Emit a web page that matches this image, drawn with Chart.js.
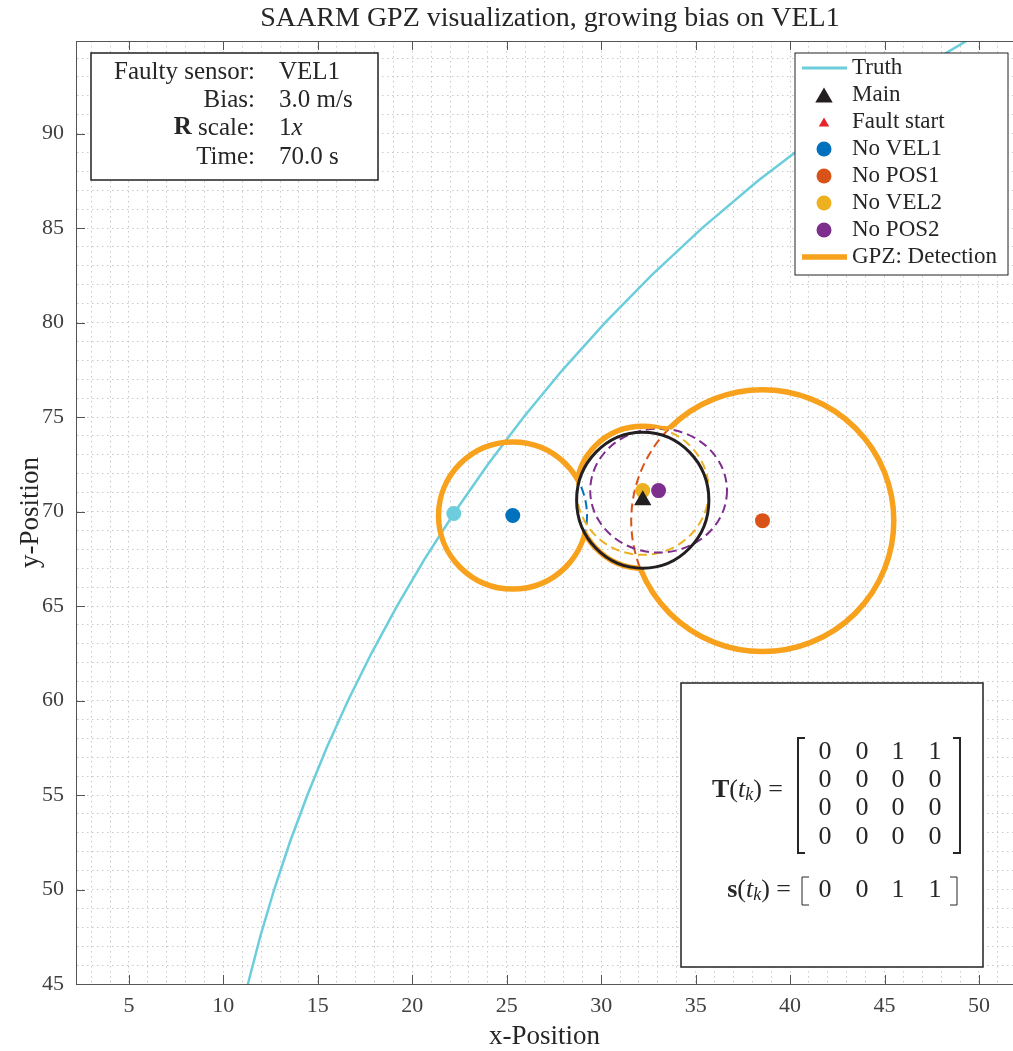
<!DOCTYPE html>
<html>
<head>
<meta charset="utf-8">
<script src="https://cdn.jsdelivr.net/npm/chart.js@4.4.1/dist/chart.umd.min.js"></script>
<style>
  html, body { margin: 0; padding: 0; background: #fff; }
  canvas { display: block; }
</style>
</head>
<body>
<canvas id="c" width="1013" height="1051"></canvas>
<script>
// SAARM GPZ: truth track, main filter + sub-filters, GPZ union outline.
const TITLE = "SAARM GPZ visualization, growing bias on VEL1";

const xTicks = [5, 10, 15, 20, 25, 30, 35, 40, 45, 50];
const yTicks = [45, 50, 55, 60, 65, 70, 75, 80, 85, 90];

// truth trajectory
const truthX = [11.06, 11.30, 11.95, 12.69, 13.52, 14.45, 15.47, 16.60, 17.84, 19.19, 20.66, 22.27,
  24.01, 25.90, 27.96, 30.21, 32.66, 35.34, 38.30, 41.59, 45.28, 49.50, 51.38];
const truthY = [44, 45, 47.5, 50, 52.5, 55, 57.5, 60, 62.5, 65, 67.5, 70,
  72.5, 75, 77.5, 80, 82.5, 85, 87.5, 90, 92.5, 95, 96];
const truthNowX = [22.2];
const truthNowY = [69.9];

// main filter
const mainX = [32.2];
const mainY = [70.6];
const mainRx = 3.5;
const mainRy = 3.6;

// fault start (not in view)
const faultX = [];
const faultY = [];

// sub-filters
const subNames = ["No VEL1", "No POS1", "No VEL2", "No POS2"];
const subX = [25.32, 38.54, 32.20, 33.04];
const subY = [69.79, 69.52, 71.11, 71.11];
const subRx = [3.93, 6.95, 3.50, 3.62];
const subRy = [3.89, 6.93, 3.40, 3.28];

// test matrix and flags
const Tmat = [[0, 0, 1, 1], [0, 0, 0, 0], [0, 0, 0, 0], [0, 0, 0, 0]];
const sVec = [0, 0, 1, 1];

const info = [
  ["Faulty sensor:", "VEL1"],
  ["Bias:", "3.0 m/s"],
  ["R scale:", "1x"],
  ["Time:", "70.0 s"],
];

// styles
const SERIF = '"Liberation Serif", "Times New Roman", serif';
const INK = "#262626";
const AXIS = "#555";
const CYAN = "#6ccedc";
const ORANGE = "#f8a11c";
const MAINC = "#231f20";
const FAULTC = "#e8242b";
const SUBC = ["#0072bd", "#d95319", "#edb120", "#7e2f8e"];

const pts = (xs, ys) => xs.map((v, i) => ({ x: v, y: ys[i] }));

function ellPix(chart, cx, cy, rx, ry) {
  const { x, y } = chart.scales;
  const px = x.getPixelForValue(cx), py = y.getPixelForValue(cy);
  return {
    px, py,
    rx: Math.abs(x.getPixelForValue(cx + rx) - px),
    ry: Math.abs(y.getPixelForValue(cy + ry) - py),
  };
}

function ellPath(ctx, e) {
  ctx.moveTo(e.px + e.rx, e.py);
  ctx.ellipse(e.px, e.py, e.rx, e.ry, 0, 0, Math.PI * 2);
}

function drawRegions(chart) {
  const ctx = chart.ctx, a = chart.chartArea;
  const subs = subX.map((v, i) => ellPix(chart, v, subY[i], subRx[i], subRy[i]));
  const main = ellPix(chart, mainX[0], mainY[0], mainRx, mainRy);
  ctx.save();
  ctx.beginPath();
  ctx.rect(a.left, a.top, a.right - a.left, a.bottom - a.top);
  ctx.clip();

  // dashed sub-filter regions
  ctx.lineWidth = 2;
  ctx.setLineDash([9, 5]);
  subs.forEach((e, i) => {
    ctx.strokeStyle = SUBC[i];
    ctx.beginPath(); ellPath(ctx, e); ctx.stroke();
  });
  ctx.setLineDash([]);

  // GPZ outline: only the outer boundary of the union
  const all = subs.concat([main]);
  ctx.lineWidth = 5.5;
  ctx.strokeStyle = ORANGE;
  all.forEach((e, i) => {
    ctx.save();
    all.forEach((o, j) => {
      if (j === i) return;
      ctx.beginPath();
      ctx.rect(0, 0, chart.width, chart.height);
      ellPath(ctx, o);
      ctx.clip("evenodd");
    });
    ctx.beginPath(); ellPath(ctx, e); ctx.stroke();
    ctx.restore();
  });

  // main filter region
  ctx.lineWidth = 3;
  ctx.strokeStyle = MAINC;
  ctx.beginPath(); ellPath(ctx, main); ctx.stroke();
  ctx.restore();
}

function runs(ctx, parts, x, y, align) {
  let w = 0;
  for (const p of parts) { ctx.font = p.f; p.w = ctx.measureText(p.t).width; w += p.w; }
  let cx = align === "right" ? x - w : align === "center" ? x - w / 2 : x;
  ctx.textAlign = "left";
  ctx.textBaseline = "middle";
  for (const p of parts) { ctx.font = p.f; ctx.fillText(p.t, cx, y + (p.dy || 0)); cx += p.w; }
}

function box(ctx, x, y, w, h, lw) {
  ctx.fillStyle = "#fff";
  ctx.fillRect(x, y, w, h);
  ctx.strokeStyle = "#222";
  ctx.lineWidth = lw;
  ctx.strokeRect(x, y, w, h);
}

function bracket(ctx, x, top, bottom, dir) {
  ctx.beginPath();
  ctx.moveTo(x + dir * 7, top);
  ctx.lineTo(x, top);
  ctx.lineTo(x, bottom);
  ctx.lineTo(x + dir * 7, bottom);
  ctx.stroke();
}

function drawFrame(chart) {
  const ctx = chart.ctx, a = chart.chartArea, { x, y } = chart.scales;
  ctx.save();
  ctx.strokeStyle = AXIS;
  ctx.lineWidth = 1;
  ctx.beginPath();
  ctx.moveTo(a.left, a.top + 0.5); ctx.lineTo(a.right, a.top + 0.5);
  for (const v of xTicks) {
    const px = Math.round(x.getPixelForValue(v)) + 0.5;
    ctx.moveTo(px, a.bottom); ctx.lineTo(px, a.bottom - 9);
    ctx.moveTo(px, a.top); ctx.lineTo(px, a.top + 9);
  }
  for (const v of yTicks) {
    const py = Math.round(y.getPixelForValue(v)) + 0.5;
    ctx.moveTo(a.left, py); ctx.lineTo(a.left + 9, py);
  }
  ctx.stroke();

  // title
  ctx.fillStyle = INK;
  ctx.font = "28px " + SERIF;
  ctx.textAlign = "center";
  ctx.textBaseline = "middle";
  ctx.fillText(TITLE, 550, 19);
  ctx.restore();
}

function drawInfo(ctx) {
  box(ctx, 91, 53, 287, 127, 1.5);
  ctx.fillStyle = INK;
  const f = "25px " + SERIF, fb = "bold 25px " + SERIF, fi = "italic 25px " + SERIF;
  const rows = [72, 100, 128, 157];
  info.forEach(([label, value], i) => {
    if (label.startsWith("R ")) {
      runs(ctx, [{ t: "R", f: fb }, { t: label.slice(1), f }], 255, rows[i], "right");
      runs(ctx, [{ t: value.slice(0, -1), f }, { t: value.slice(-1), f: fi }], 279, rows[i], "left");
    } else {
      runs(ctx, [{ t: label, f }], 255, rows[i], "right");
      runs(ctx, [{ t: value, f }], 279, rows[i], "left");
    }
  });
}

function drawMatrix(ctx) {
  box(ctx, 681, 683, 302, 284, 1.5);
  ctx.fillStyle = INK;
  ctx.strokeStyle = INK;
  ctx.lineWidth = 2;
  const f = "26px " + SERIF, fb = "bold 26px " + SERIF, fi = "italic 26px " + SERIF, fs = "italic 18px " + SERIF;
  const cols = [825, 862, 898, 935];
  const rows = [752, 780, 808, 837];
  runs(ctx, [{ t: "T", f: fb }, { t: "(", f }, { t: "t", f: fi }, { t: "k", f: fs, dy: 5 }, { t: ")", f }, { t: " =", f }], 783, 790, "right");
  bracket(ctx, 798, 738, 853, 1);
  bracket(ctx, 960, 738, 853, -1);
  Tmat.forEach((row, r) => row.forEach((v, c) => runs(ctx, [{ t: String(v), f }], cols[c], rows[r], "center")));

  runs(ctx, [{ t: "s", f: fb }, { t: "(", f }, { t: "t", f: fi }, { t: "k", f: fs, dy: 5 }, { t: ")", f }, { t: " =", f }], 791, 890, "right");
  ctx.lineWidth = 1;
  bracket(ctx, 802, 877, 905, 1);
  bracket(ctx, 957, 877, 905, -1);
  sVec.forEach((v, c) => runs(ctx, [{ t: String(v), f }], cols[c], 890, "center"));
}

function drawLegend(ctx) {
  box(ctx, 795, 53, 213, 222, 1);
  const items = [
    { label: "Truth", kind: "line", color: CYAN, w: 3 },
    { label: "Main", kind: "tri", color: MAINC, r: 10 },
    { label: "Fault start", kind: "tri", color: FAULTC, r: 6 },
  ].concat(subNames.map((n, i) => ({ label: n, kind: "dot", color: SUBC[i] })))
   .concat([{ label: "GPZ: Detection", kind: "line", color: ORANGE, w: 5.5 }]);
  items.forEach((it, i) => {
    const cy = 68 + i * 27;
    ctx.fillStyle = it.color;
    ctx.strokeStyle = it.color;
    if (it.kind === "line") {
      ctx.lineWidth = it.w;
      ctx.beginPath(); ctx.moveTo(802, cy); ctx.lineTo(847, cy); ctx.stroke();
    } else if (it.kind === "dot") {
      ctx.beginPath(); ctx.arc(824, cy, 7.5, 0, Math.PI * 2); ctx.fill();
    } else {
      const r = it.r;
      ctx.beginPath();
      ctx.moveTo(824, cy - r * 0.75);
      ctx.lineTo(824 + r * 0.87, cy + r * 0.75);
      ctx.lineTo(824 - r * 0.87, cy + r * 0.75);
      ctx.closePath(); ctx.fill();
    }
    ctx.fillStyle = INK;
    runs(ctx, [{ t: it.label, f: "23px " + SERIF }], 852, cy, "left");
  });
}

const overlay = {
  id: "overlay",
  afterDatasetDraw(chart, args) {
    if (args.index === 0) drawRegions(chart);
  },
  afterDraw(chart) {
    drawFrame(chart);
    drawInfo(chart.ctx);
    drawMatrix(chart.ctx);
    drawLegend(chart.ctx);
  },
};

const dotSet = (label, xs, ys, color, extra) => Object.assign({
  label, data: pts(xs, ys), backgroundColor: color, borderColor: color,
  borderWidth: 0, pointRadius: 7.5, pointHoverRadius: 7.5, order: 1,
}, extra || {});

const datasets = [
  { label: "Truth", data: pts(truthX, truthY), showLine: true, borderColor: CYAN, borderWidth: 2.5,
    pointRadius: 0, pointHoverRadius: 0, order: 2 },
  dotSet("Main", mainX, mainY, MAINC, { pointStyle: "triangle", pointRadius: 10 }),
  dotSet("Fault start", faultX, faultY, FAULTC, { pointStyle: "triangle", pointRadius: 6 }),
  dotSet("Truth now", truthNowX, truthNowY, CYAN),
].concat(subNames.map((n, i) => dotSet(n, [subX[i]], [subY[i]], SUBC[i])));

const intTicks = (s) => {
  const out = [];
  for (let v = Math.ceil(s.min); v <= Math.floor(s.max); v++) out.push({ value: v });
  s.ticks = out;
};

Chart.defaults.font.family = SERIF;
Chart.defaults.color = INK;

new Chart(document.getElementById("c"), {
  type: "scatter",
  data: { datasets },
  options: {
    responsive: false,
    animation: false,
    devicePixelRatio: 1,
    layout: { autoPadding: false, padding: { top: 41, left: 0, right: 0, bottom: 0 } },
    plugins: { legend: { display: false }, tooltip: { enabled: false }, title: { display: false } },
    scales: {
      x: {
        type: "linear", min: 2.2, max: 51.8,
        afterBuildTicks: intTicks,
        afterFit: (s) => { s.height = 67; s.paddingLeft = 0; s.paddingRight = 0; },
        grid: { color: "#c9c9c9", lineWidth: 1, drawTicks: true, tickLength: 9, tickColor: "rgba(0,0,0,0)" },
        border: { display: true, color: AXIS, width: 1, dash: [1.5, 3.5] },
        ticks: {
          autoSkip: false, maxRotation: 0, padding: 0, color: "#404040",
          font: { size: 22 },
          callback: (v) => (xTicks.includes(v) ? String(v) : ""),
        },
        title: { display: true, text: "x-Position", color: INK, font: { size: 27, lineHeight: 1 }, padding: { top: 0, bottom: 1 } },
      },
      y: {
        type: "linear", min: 45, max: 94.9,
        afterBuildTicks: intTicks,
        afterFit: (s) => { s.width = 76; s.paddingTop = 0; s.paddingBottom = 0; },
        grid: { color: "#c9c9c9", lineWidth: 1, drawTicks: false },
        border: { display: true, color: AXIS, width: 1, dash: [1.5, 3.5] },
        ticks: {
          autoSkip: false, padding: 12, color: "#404040",
          font: { size: 22 },
          callback: (v) => (yTicks.includes(v) ? String(v) : ""),
        },
        title: { display: true, text: "y-Position", color: INK, font: { size: 27, lineHeight: 1 }, padding: { top: 17, bottom: 0 } },
      },
    },
  },
  plugins: [overlay],
});
</script>
</body>
</html>
